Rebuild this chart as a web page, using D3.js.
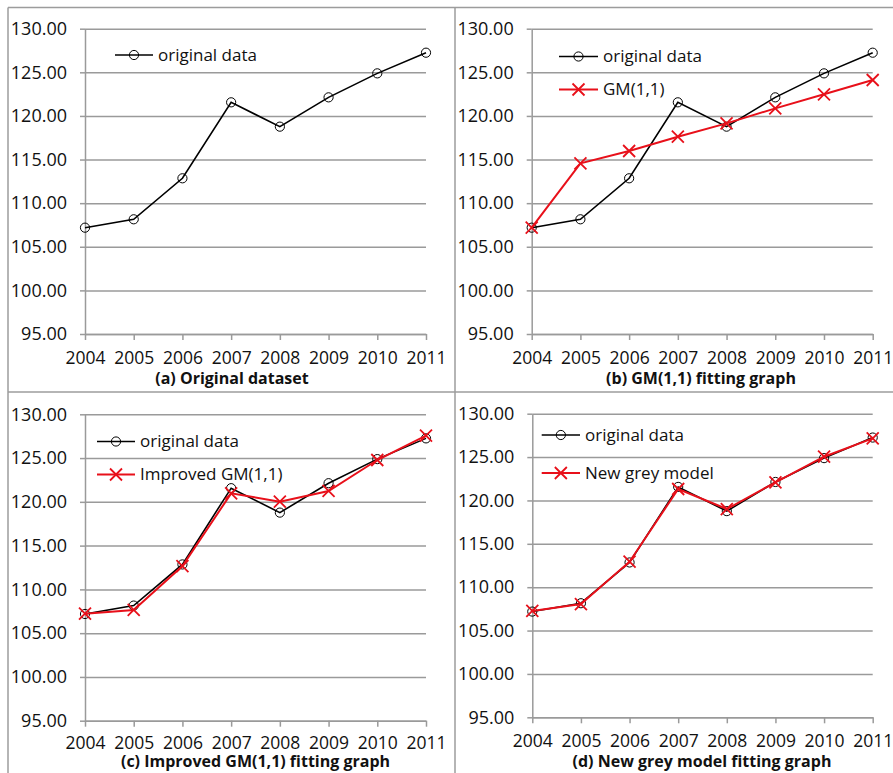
<!DOCTYPE html>
<html>
<head>
<meta charset="utf-8">
<script src="https://cdn.jsdelivr.net/npm/d3@7"></script>
<style>
  body { margin: 0; background: #fff; }
  svg { display: block; }
</style>
</head>
<body>
<div id="chart"></div>
<script>
// Data
const years = [2004, 2005, 2006, 2007, 2008, 2009, 2010, 2011];
const original = [107.19, 108.15, 112.85, 121.56, 118.77, 122.13, 124.88, 127.25];
const gm11 = [107.19, 114.57, 115.98, 117.62, 119.15, 120.87, 122.48, 124.12];
const improvedGm = [107.23, 107.65, 112.67, 120.97, 120.02, 121.24, 124.78, 127.56];
const newGrey = [107.26, 108.06, 112.94, 121.32, 119.01, 122.09, 125.04, 127.16];
const yTicks = [95, 100, 105, 110, 115, 120, 125, 130];

const width = 893, height = 773;
const red = "#e8101a", grid = "#9a9a9a";

// Panel layout (pixel positions only)
const panels = [
  { left: 85, right: 426, top: 28.7, bottom: 334, capX: 232, capY: 384, yearGap: 11.5,
    caption: "(a) Original dataset",
    legend: { x1: 115, x2: 153, y: 55, dy: 33 },
    series: [{ name: "original data", values: original, type: "circle" }] },
  { left: 531.7, right: 872.7, top: 28.7, bottom: 334, capX: 701, capY: 384, yearGap: 11.5,
    caption: "(b) GM(1,1) fitting graph",
    legend: { x1: 559, x2: 598, y: 56.5, dy: 33 },
    series: [{ name: "original data", values: original, type: "circle" },
             { name: "GM(1,1)", values: gm11, type: "cross" }] },
  { left: 85, right: 426, top: 414.3, bottom: 720.7, capX: 255.5, capY: 767, yearGap: 10,
    caption: "(c) Improved GM(1,1) fitting graph",
    legend: { x1: 97, x2: 135, y: 441.5, dy: 33 },
    series: [{ name: "original data", values: original, type: "circle" },
             { name: "Improved GM(1,1)", values: improvedGm, type: "cross" }] },
  { left: 532.3, right: 872.7, top: 413.7, bottom: 717.3, capX: 702, capY: 767, yearGap: 11,
    caption: "(d) New grey model fitting graph",
    legend: { x1: 541.7, x2: 580, y: 435, dy: 38 },
    series: [{ name: "original data", values: original, type: "circle" },
             { name: "New grey model", values: newGrey, type: "cross" }] }
];

const svg = d3.select("#chart").append("svg")
    .attr("width", width)
    .attr("height", height)
    .attr("font-family", "'Open Sans', sans-serif");

// Table frame lines
const frame = svg.append("g").attr("stroke", "#9c9c9c").attr("stroke-width", 1.5);
frame.append("line").attr("x1", 8).attr("x2", 8).attr("y1", 7.5).attr("y2", height);
frame.append("line").attr("x1", 455).attr("x2", 455).attr("y1", 7.5).attr("y2", height);
frame.append("line").attr("x1", 8).attr("x2", width).attr("y1", 7.5).attr("y2", 7.5);
frame.append("line").attr("x1", 8).attr("x2", width).attr("y1", 392).attr("y2", 392);

function drawMarker(g, type, color) {
  if (type === "circle") {
    g.append("circle").attr("r", 4.6)
        .attr("fill", "none").attr("stroke", "#000").attr("stroke-width", 1);
  } else {
    const s = 6;
    g.append("path").attr("d", `M${-s},${-s}L${s},${s}M${-s},${s}L${s},${-s}`)
        .attr("stroke", color).attr("stroke-width", 1.8).attr("fill", "none");
  }
}

panels.forEach(function(p) {
  const x = d3.scalePoint(years, [p.left, p.right]);
  const y = d3.scaleLinear([95, 130], [p.bottom, p.top]);
  const g = svg.append("g");

  // Gridlines
  g.append("g")
      .attr("transform", `translate(${p.left},0)`)
      .call(d3.axisRight(y).tickValues(yTicks).tickSize(p.right - p.left).tickFormat(""))
      .call(a => a.select(".domain").remove())
      .call(a => a.selectAll("line").attr("stroke", grid).attr("stroke-width", 1.5));

  // Y axis
  g.append("g")
      .attr("transform", `translate(${p.left},0)`)
      .call(d3.axisLeft(y).tickValues(yTicks).tickFormat(d3.format(".2f"))
          .tickSize(5).tickPadding(13).tickSizeOuter(0))
      .call(a => a.select(".domain").attr("stroke", grid).attr("stroke-width", 1.5))
      .call(a => a.selectAll("line").attr("stroke", grid).attr("stroke-width", 1.5))
      .call(a => a.selectAll("text").attr("font-size", 18).attr("fill", "#111")
          .attr("font-family", "'Open Sans', sans-serif"));

  // X axis
  g.append("g")
      .attr("transform", `translate(0,${p.bottom})`)
      .call(d3.axisBottom(x).tickSize(6).tickPadding(p.yearGap).tickSizeOuter(0))
      .call(a => a.select(".domain").attr("stroke", grid).attr("stroke-width", 1.5))
      .call(a => a.selectAll("line").attr("stroke", grid).attr("stroke-width", 1.5))
      .call(a => a.selectAll("text").attr("font-size", 17.5).attr("fill", "#111")
          .attr("font-family", "'Open Sans', sans-serif"));

  // Series lines and markers
  const line = d3.line().x((d, i) => x(years[i])).y(d => y(d));
  p.series.forEach(function(s) {
    const color = s.type === "circle" ? "#000" : red;
    g.append("path")
        .datum(s.values)
        .attr("fill", "none")
        .attr("stroke", color)
        .attr("stroke-width", s.type === "circle" ? 1.6 : 2)
        .attr("d", line);
    g.append("g").selectAll("g")
        .data(s.values)
        .join("g")
        .attr("transform", (d, i) => `translate(${x(years[i])},${y(d)})`)
        .each(function() { drawMarker(d3.select(this), s.type, color); });
  });

  // Legend
  p.series.forEach(function(s, i) {
    const color = s.type === "circle" ? "#000" : red;
    const ly = p.legend.y + i * p.legend.dy;
    const lg = g.append("g");
    lg.append("line")
        .attr("x1", p.legend.x1).attr("x2", p.legend.x2)
        .attr("y1", ly).attr("y2", ly)
        .attr("stroke", color).attr("stroke-width", s.type === "circle" ? 1.6 : 2);
    drawMarker(lg.append("g").attr("transform", `translate(${(p.legend.x1 + p.legend.x2) / 2},${ly})`), s.type, color);
    lg.append("text")
        .attr("x", p.legend.x2 + 5)
        .attr("y", ly)
        .attr("dy", "0.35em")
        .attr("font-size", 17)
        .attr("fill", "#111")
        .text(s.name);
  });

  // Caption
  g.append("text")
      .attr("x", p.capX)
      .attr("y", p.capY)
      .attr("text-anchor", "middle")
      .attr("font-size", 16)
      .attr("font-weight", "bold")
      .attr("fill", "#111")
      .text(p.caption);
});
</script>
</body>
</html>
